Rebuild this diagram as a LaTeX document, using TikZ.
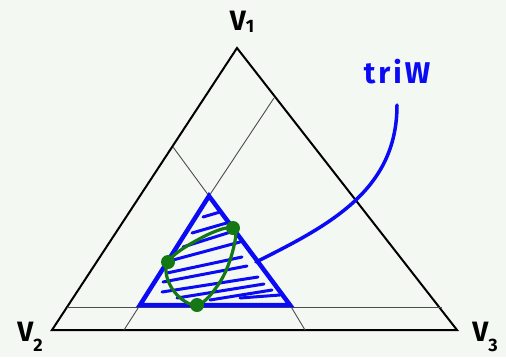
\documentclass[tikz,border=0pt]{standalone}
\usepackage{fontspec}
\setmainfont{Fira Sans}
\definecolor{bgc}{RGB}{244,248,243}
\definecolor{myblue}{RGB}{10,10,245}
\definecolor{mygreen}{RGB}{20,120,20}
\begin{document}
\begin{tikzpicture}[x=1pt,y=-1pt,
  outer/.style={draw=black,line width=2pt,line join=miter},
  thin/.style={draw=black!70,line width=0.9pt},
  bluetri/.style={draw=myblue,line width=4.5pt,line join=miter},
  hatch/.style={draw=myblue,line width=3pt,line cap=round},
  gcurve/.style={draw=mygreen,line width=3.2pt},
  gdot/.style={circle,fill=mygreen,inner sep=0pt,minimum size=14pt},
  lbl/.style={font=\fontsize{28}{30}\selectfont\bfseries,inner sep=0pt},
  lead/.style={draw=myblue,line width=3.5pt,line cap=round}]
\fill[bgc] (0,0) rectangle (506,357);
\useasboundingbox (0,0) rectangle (506,357);
% outer triangle
\coordinate (v1) at (237,48);
\coordinate (v2) at (52,330);
\coordinate (v3) at (457,330);
\draw[outer] (v1) -- (v2) -- (v3) -- cycle;
% thin lines
\coordinate (la) at (173,147);
\coordinate (lb) at (274,98);
\coordinate (ta) at (209,196);
\coordinate (tb) at (140,305);
\coordinate (tc) at (290,305);
\coordinate (hl) at (67,307);
\coordinate (hr) at (442,307);
\coordinate (bl) at (124,330);
\coordinate (br) at (305,330);
\draw[thin] (la) -- (ta) -- (lb);
\draw[thin] (hl) -- (hr);
\draw[thin] (tb) -- (bl);
\draw[thin] (tc) -- (br);
% hatching
\draw[hatch] (203,217) -- (220,212);
\draw[hatch] (192,233) -- (230,222);
\draw[hatch] (183,247) -- (237,230);
\draw[hatch] (173,260) -- (240,242);
\draw[hatch] (167,273) -- (242,257);
\draw[hatch] (163,282) -- (247,266);
\draw[hatch] (162,292) -- (258,277);
\draw[hatch] (177,298) -- (264,284);
\draw[hatch] (210,300) -- (272,290);
\draw[hatch] (240,298) -- (280,295);
% blue triangle
\draw[bluetri] (ta) -- (tb) -- (tc) -- cycle;
% leader
\coordinate (le) at (256,262);
\node[lbl,text=myblue,font=\fontsize{30}{32}\selectfont\bfseries\addfontfeature{LetterSpace=10}] (triw) at (397,72) {triW};
\coordinate (ls) at (397,105);
\draw[lead] (ls) .. controls (397,190) and (330,225) .. (le);
% green curve
\coordinate (ga) at (233,228);
\coordinate (gb) at (168,262);
\coordinate (gc) at (197,305);
\draw[gcurve] plot[smooth cycle,tension=0.6] coordinates {(233,228) (203,237) (168,262) (173,290) (197,305) (220,282) (233,250)};
\node[gdot] (da) at (ga) {};
\node[gdot] (db) at (gb) {};
\node[gdot] (dc) at (gc) {};
% labels
\node[lbl] (l1) at (242,22) {V\raisebox{-2pt}{\fontsize{18}{20}\selectfont 1}};
\node[lbl] (l2) at (30,337) {V\raisebox{-10pt}{\fontsize{18}{20}\selectfont 2}};
\node[lbl] (l3) at (485,337) {V\raisebox{-10pt}{\fontsize{18}{20}\selectfont 3}};
\end{tikzpicture}
\end{document}
